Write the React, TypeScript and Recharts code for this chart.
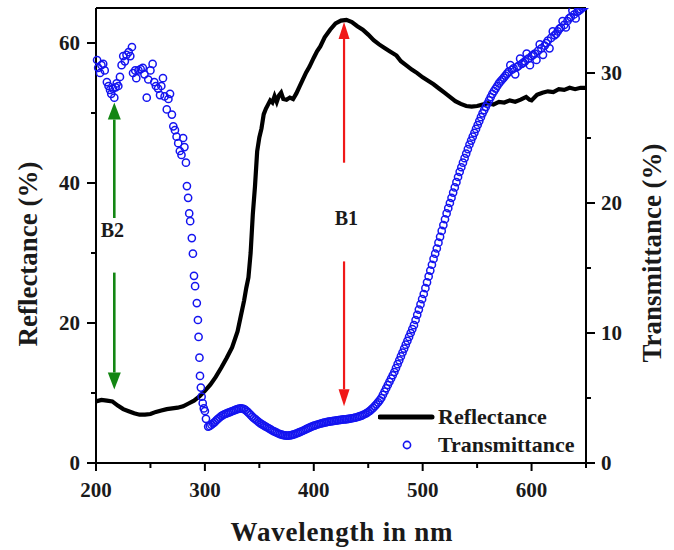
import {
  ComposedChart,
  Legend,
  Line,
  ReferenceDot,
  ReferenceLine,
  Scatter,
  XAxis,
  YAxis,
} from "recharts";

// Reflectance (left axis, %)
const reflWl = [
  200, 205, 210, 215, 220, 225, 230, 235, 240, 245, 250, 255, 260, 265, 270, 275, 280, 285,
  290, 295, 300, 305, 310, 315, 320, 325, 330, 333, 336, 338, 340, 342, 344, 346, 348, 350,
  352, 354, 356, 358, 360, 362, 364, 366, 368, 370, 372, 375, 378, 381, 384, 387, 390, 393,
  396, 400, 403, 406, 410, 415, 420, 425, 430, 435, 440, 445, 450, 455, 460, 465, 470, 476,
  480, 485, 490, 495, 500, 505, 510, 515, 520, 525, 530, 535, 540, 545, 550, 555, 560, 565,
  570, 575, 580, 585, 590, 595, 598, 600, 605, 610, 615, 620, 625, 630, 635, 640, 645, 650,
];
const reflVal = [
  8.8, 9.0, 8.9, 8.8, 8.2, 7.7, 7.4, 7.1, 6.9, 6.9, 7.0, 7.3, 7.5, 7.7, 7.8, 7.9, 8.1, 8.5,
  8.9, 9.5, 10.3, 11.2, 12.3, 13.6, 15.0, 16.5, 18.8, 21.0, 23.2, 25.0, 26.5, 30.0, 35.5, 39.5, 44.5, 46.5,
  47.8, 49.8, 50.6, 51.2, 51.8, 51.5, 52.4, 51.6, 52.5, 52.9, 52.0, 51.9, 52.2, 52.0, 52.8, 53.8, 54.8, 55.8,
  56.6, 57.9, 58.8, 59.5, 60.8, 61.9, 62.8, 63.2, 63.3, 63.0, 62.4, 61.9, 61.2, 60.4, 59.8, 59.3, 58.8, 58.2,
  57.4, 56.8, 56.2, 55.7, 55.1, 54.6, 54.1, 53.5, 52.9, 52.3, 51.7, 51.3, 51.0, 50.9, 51.0, 51.2, 51.4, 51.2,
  51.6, 51.5, 51.8, 51.6, 51.9, 52.3, 51.9, 51.8, 52.6, 52.9, 53.1, 53.0, 53.4, 53.3, 53.6, 53.4, 53.6, 53.6,
];

// Transmittance (right axis, %): sparse part below 302 nm
const transWlLow = [
  201, 202, 203.7, 205, 206.6, 208, 210, 211.5, 212.9, 214, 215.5, 216.8, 218, 219, 220.5, 222,
  223.5, 225, 226.5, 228, 230, 231.5, 233, 234, 236, 237, 239, 241, 243, 244.5, 246.6, 248,
  250, 252, 253.5, 255, 257, 258.8, 260, 261.5, 263, 265, 266.5, 268, 269.7, 271, 272.5, 274,
  275.5, 277, 278.5, 280, 281.2, 282.6, 283.5, 284.6, 285.6, 286.5, 288, 289, 290, 291, 292.6,
  293.6, 294.2, 295, 295.5, 296.3, 297, 298, 299, 300, 301,
];
const transValLow = [
  31.0, 30.4, 30.0, 30.6, 30.7, 30.2, 29.3, 29.0, 28.7, 28.4, 28.8, 28.1, 28.9, 29.2, 29.0, 29.7,
  30.6, 31.3, 30.9, 31.4, 31.6, 31.3, 32.0, 30.0, 30.2, 29.6, 30.2, 30.3, 30.4, 29.9, 28.1, 29.5,
  30.2, 30.7, 29.3, 29.0, 28.8, 28.3, 29.0, 29.6, 28.2, 27.2, 28.0, 28.4, 26.8, 25.9, 25.6, 25.1,
  24.6, 24.0, 23.7, 25.0, 24.3, 23.1, 21.3, 20.4, 19.2, 18.6, 17.3, 16.1, 14.4, 13.6, 12.3,
  11.0, 9.7, 8.1, 6.7, 5.8, 5.1, 4.6, 4.2, 4.0, 3.4,
];

// dense part, 1.5 nm apart
const transWlHigh = [
  303, 304.5, 306, 307.5, 309, 310.5, 312, 313.5, 315, 316.5, 318, 319.5, 321, 322.5, 324, 325.5,
  327, 328.5, 330, 331.5, 333, 334.5, 336, 337.5, 339, 340.5, 342, 343.5, 345, 346.5, 348, 349.5,
  351, 352.5, 354, 355.5, 357, 358.5, 360, 361.5, 363, 364.5, 366, 367.5, 369, 370.5, 372, 373.5,
  375, 376.5, 378, 379.5, 381, 382.5, 384, 385.5, 387, 388.5, 390, 391.5, 393, 394.5, 396, 397.5,
  399, 400.5, 402, 403.5, 405, 406.5, 408, 409.5, 411, 412.5, 414, 415.5, 417, 418.5, 420, 421.5,
  423, 424.5, 426, 427.5, 429, 430.5, 432, 433.5, 435, 436.5, 438, 439.5, 441, 442.5, 444, 445.5,
  447, 448.5, 450, 451.5, 453, 454.5, 456, 457.5, 459, 460.5, 462, 463.5, 465, 466.5, 468, 469.5,
  471, 472.5, 474, 475.5, 477, 478.5, 480, 481.5, 483, 484.5, 486, 487.5, 489, 490.5, 492, 493.5,
  495, 496.5, 498, 499.5, 501, 502.5, 504, 505.5, 507, 508.5, 510, 511.5, 513, 514.5, 516, 517.5,
  519, 520.5, 522, 523.5, 525, 526.5, 528, 529.5, 531, 532.5, 534, 535.5, 537, 538.5, 540, 541.5,
  543, 544.5, 546, 547.5, 549, 550.5, 552, 553.5, 555, 556.5, 558, 559.5, 561, 562.5, 564, 565.5,
  567, 568.5, 570, 571.5, 573, 574.5, 576, 577.5, 579, 580.5, 582, 583.5, 585, 586.5, 588, 589.5,
  591, 592.5, 594, 595.5, 597, 598.5, 600, 601.5, 603, 604.5, 606, 607.5, 609, 610.5, 612, 613.5,
  615, 616.5, 618, 619.5, 621, 622.5, 624, 625.5, 627, 628.5, 630, 631.5, 633, 634.5, 636, 637.5,
  639, 640.5, 642, 643.5, 645, 646.5, 648, 649.5,
];
const transValHigh = [
  2.8, 2.85, 2.95, 3.05, 3.15, 3.28, 3.4, 3.5, 3.6, 3.68, 3.75, 3.8, 3.85, 3.9, 3.95, 4.0,
  4.05, 4.1, 4.15, 4.18, 4.2, 4.19, 4.15, 4.06, 3.95, 3.83, 3.7, 3.57, 3.45, 3.35, 3.25, 3.15,
  3.05, 2.97, 2.9, 2.82, 2.75, 2.67, 2.6, 2.52, 2.45, 2.39, 2.33, 2.27, 2.22, 2.18, 2.15, 2.12,
  2.1, 2.1, 2.12, 2.15, 2.18, 2.22, 2.27, 2.32, 2.37, 2.42, 2.48, 2.54, 2.6, 2.66, 2.72, 2.78,
  2.83, 2.88, 2.92, 2.96, 3.0, 3.04, 3.07, 3.1, 3.13, 3.16, 3.18, 3.2, 3.22, 3.24, 3.26, 3.28,
  3.3, 3.32, 3.33, 3.35, 3.36, 3.38, 3.4, 3.42, 3.44, 3.46, 3.49, 3.52, 3.56, 3.6, 3.65, 3.71,
  3.77, 3.84, 3.92, 4.01, 4.12, 4.24, 4.37, 4.51, 4.66, 4.82, 5.0, 5.25, 5.5, 5.75, 6.0, 6.25,
  6.5, 6.75, 7.0, 7.3, 7.6, 7.9, 8.2, 8.5, 8.8, 9.1, 9.4, 9.7, 10.0, 10.3, 10.6, 11.0,
  11.4, 11.8, 12.2, 12.6, 13.0, 13.45, 13.9, 14.35, 14.8, 15.25, 15.7, 16.1, 16.5, 16.95, 17.4, 17.85,
  18.3, 18.75, 19.2, 19.6, 20.0, 20.4, 20.8, 21.2, 21.6, 22.0, 22.4, 22.75, 23.1, 23.45, 23.8, 24.15,
  24.5, 24.8, 25.1, 25.4, 25.7, 26.0, 26.3, 26.6, 26.9, 27.15, 27.4, 27.65, 27.9, 28.15, 28.4, 28.6,
  28.8, 29.0, 29.2, 29.35, 29.5, 29.65, 29.8, 29.95, 30.1, 30.6, 30.25, 30.35, 29.9, 30.45, 30.55, 31.1,
  30.7, 30.8, 30.9, 31.5, 31.1, 30.6, 31.3, 31.4, 31.5, 31.0, 31.7, 32.2, 31.9, 31.4, 32.1, 32.3,
  32.5, 31.9, 32.7, 33.2, 32.9, 33.0, 33.2, 33.4, 33.5, 34.0, 33.7, 33.5, 34.0, 34.2, 34.3, 34.8,
  34.5, 34.2, 34.7, 34.8, 34.9, 35.0, 35.1, 35.2,
];

const xTicks = [200, 250, 300, 350, 400, 450, 500, 550, 600, 650];
const leftTicks = [0, 10, 20, 30, 40, 50, 60];
const rightTicks = [0, 5, 10, 15, 20, 25, 30];

// annotation arrows [x, yFrom, yTo] in left-axis units
const greenArrows = [
  [216.8, 35.0, 51.5],
  [216.8, 27.2, 10.5],
];
const redArrows = [
  [427.8, 42.9, 63.0],
  [427.8, 28.8, 8.1],
];

const reflRows = reflWl.map((wl, i) => ({ wl, r: reflVal[i] }));
const transRows = [
  ...transWlLow.map((wl, i) => ({ wl, t: transValLow[i] })),
  ...transWlHigh.map((wl, i) => ({ wl, t: transValHigh[i] })),
];

const FONT = "'Liberation Serif', 'Times New Roman', serif";
const INK = "#1a1a1a";
const BLUE = "#1414f0";

const XTick = (props: any) => {
  const { x, y, payload } = props;
  const major = payload.value % 100 === 0 && payload.value !== 650;
  return (
    <g>
      <line x1={x} y1={y} x2={x} y2={y + (major ? 8 : 5)} stroke="#000" strokeWidth={2} />
      {major && (
        <text x={x} y={y + 34} textAnchor="middle" fontFamily={FONT} fontWeight="bold" fontSize={21} fill={INK}>
          {payload.value}
        </text>
      )}
    </g>
  );
};

const LeftTick = (props: any) => {
  const { x, y, payload } = props;
  const major = payload.value % 20 === 0;
  return (
    <g>
      <line x1={x} y1={y} x2={x - (major ? 9 : 5)} y2={y} stroke="#000" strokeWidth={2} />
      {major && (
        <text x={x - 16} y={y + 7} textAnchor="end" fontFamily={FONT} fontWeight="bold" fontSize={21} fill={INK}>
          {payload.value}
        </text>
      )}
    </g>
  );
};

const RightTick = (props: any) => {
  const { x, y, payload } = props;
  const major = payload.value % 10 === 0;
  return (
    <g>
      <line x1={x} y1={y} x2={x + (major ? 9 : 5)} y2={y} stroke="#000" strokeWidth={2} />
      {major && (
        <text x={x + 15} y={y + 7} textAnchor="start" fontFamily={FONT} fontWeight="bold" fontSize={21} fill={INK}>
          {payload.value}
        </text>
      )}
    </g>
  );
};

const makeArrow = (color: string, width: number, headLen: number, headHalf: number) => (props: any) => {
  const { x1, y1, x2, y2 } = props;
  if (x1 == null || y1 == null) return <g />;
  const dir = y2 > y1 ? 1 : -1;
  const baseY = y2 - dir * headLen;
  return (
    <g>
      <line x1={x1} y1={y1} x2={x2} y2={baseY} stroke={color} strokeWidth={width} />
      <polygon points={`${x2},${y2} ${x2 - headHalf},${baseY} ${x2 + headHalf},${baseY}`} fill={color} />
    </g>
  );
};

const greenArrow = makeArrow("#138613", 2.6, 17, 6.5);
const redArrow = makeArrow("#f01818", 2.2, 17, 5.5);

const labelShape = (text: string) => (props: any) => (
  <text x={props.cx} y={props.cy} textAnchor="middle" fontFamily={FONT} fontWeight="bold" fontSize={20} fill={INK}>
    {text}
  </text>
);

const dotShape = (props: any) => (
  <circle cx={props.cx} cy={props.cy} r={3.6} fill="none" stroke={BLUE} strokeWidth={1.5} />
);

const renderLegend = () => (
  <svg width={210} height={60} style={{ display: "block" }}>
    <line x1={2} y1={17} x2={54} y2={17} stroke="#000" strokeWidth={5} strokeLinecap="round" />
    <text x={60} y={24} fontFamily={FONT} fontWeight="bold" fontSize={22} fill={INK}>
      Reflectance
    </text>
    <circle cx={29} cy={45} r={3.6} fill="none" stroke={BLUE} strokeWidth={1.6} />
    <text x={60} y={52} fontFamily={FONT} fontWeight="bold" fontSize={22} fill={INK}>
      Transmittance
    </text>
  </svg>
);

export default function App() {
  return (
    <div style={{ position: "absolute", left: 0, top: 0, width: 674, height: 550, background: "#fff" }}>
      <ComposedChart width={674} height={550} margin={{ top: 8, right: 0, bottom: 0, left: 0 }}>
        <XAxis
          type="number"
          dataKey="wl"
          domain={[200, 650]}
          ticks={xTicks}
          interval={0}
          height={87}
          tickSize={0}
          tickMargin={0}
          tick={XTick}
          axisLine={{ stroke: "#000", strokeWidth: 2 }}
          label={{
            content: () => (
              <text x={342} y={541} textAnchor="middle" fontFamily={FONT} fontWeight="bold" fontSize={27} fill={INK} letterSpacing={0.8}>
                Wavelength in nm
              </text>
            ),
          }}
        />
        <YAxis
          yAxisId="left"
          type="number"
          domain={[0, 65]}
          allowDataOverflow
          ticks={leftTicks}
          interval={0}
          width={96}
          tickSize={0}
          tickMargin={0}
          tick={LeftTick}
          axisLine={{ stroke: "#000", strokeWidth: 2 }}
          label={{
            content: () => (
              <text x={37} y={254} transform="rotate(-90, 37, 254)" textAnchor="middle" fontFamily={FONT} fontWeight="bold" fontSize={27} fill={INK}>
                Reflectance (%)
              </text>
            ),
          }}
        />
        <YAxis
          yAxisId="right"
          orientation="right"
          type="number"
          domain={[0, 35]}
          allowDataOverflow
          ticks={rightTicks}
          interval={0}
          width={88}
          tickSize={0}
          tickMargin={0}
          tick={RightTick}
          axisLine={{ stroke: "#000", strokeWidth: 2 }}
          label={{
            content: () => (
              <text x={661} y={253} transform="rotate(-90, 661, 253)" textAnchor="middle" fontFamily={FONT} fontWeight="bold" fontSize={27} fill={INK}>
                Transmittance (%)
              </text>
            ),
          }}
        />
        <ReferenceLine yAxisId="left" y={65} stroke="#000" strokeWidth={2} />
        <Line
          yAxisId="left"
          data={reflRows}
          dataKey="r"
          type="linear"
          stroke="#000"
          strokeWidth={4.2}
          dot={false}
          isAnimationActive={false}
        />
        <Scatter
          yAxisId="right"
          data={transRows}
          dataKey="t"
          shape={dotShape}
          isAnimationActive={false}
        />
        {greenArrows.map((a, i) => (
          <ReferenceLine
            key={`g${i}`}
            yAxisId="left"
            segment={[{ x: a[0], y: a[1] }, { x: a[0], y: a[2] }]}
            shape={greenArrow}
          />
        ))}
        {redArrows.map((a, i) => (
          <ReferenceLine
            key={`r${i}`}
            yAxisId="left"
            segment={[{ x: a[0], y: a[1] }, { x: a[0], y: a[2] }]}
            shape={redArrow}
          />
        ))}
        <ReferenceDot yAxisId="left" x={215} y={32.3} shape={labelShape("B2")} />
        <ReferenceDot yAxisId="left" x={430} y={34.0} shape={labelShape("B1")} />
        <Legend
          layout="vertical"
          align="center"
          verticalAlign="middle"
          content={renderLegend}
          wrapperStyle={{ position: "absolute", left: 378, top: 400, width: 210, height: 60 }}
        />
      </ComposedChart>
    </div>
  );
}
